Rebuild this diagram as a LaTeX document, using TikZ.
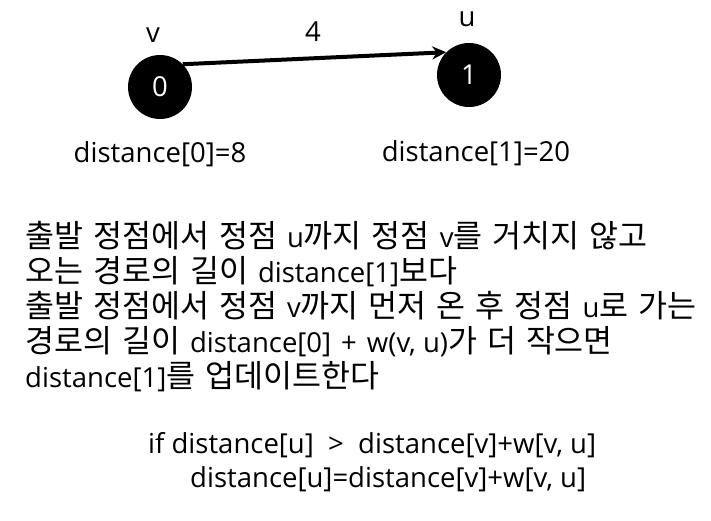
\documentclass[tikz,border=0pt]{standalone}
\usepackage{fontspec}
\usetikzlibrary{arrows.meta}
\setmainfont{Open Sans}
\newfontfamily\krfont{Noto Sans CJK KR}
\newcommand\K[1]{{\krfont\fontsize{31.5}{36}\selectfont #1}}
\newcommand\sk{\hspace*{10pt}}
\begin{document}
\begin{tikzpicture}[x=1pt,y=-1pt,
  vert/.style={circle,fill=black,minimum size=64pt,inner sep=0pt,text=white,font=\fontsize{27.5}{32}\selectfont},
  lbl/.style={font=\fontsize{27.5}{32}\selectfont,inner sep=0pt,anchor=base},
  para/.style={font=\fontsize{27.5}{32}\selectfont,inner sep=0pt,anchor=base west},
  code/.style={font=\fontsize{27.5}{32}\selectfont,inner sep=0pt,anchor=base west}]
\useasboundingbox (0,0) rectangle (711,520);
\node[vert] (n0) at (160,87) {0};
\node[vert] (n1) at (469,75) {1};
\draw[line width=4pt,-{Stealth[length=14pt,width=13pt]}] (n0.45) -- (n1.135);
\node[lbl] (lv) at (153,42) {v};
\node[lbl] (lu) at (467,26) {u};
\node[lbl] (lw) at (313,41) {4};
\node[lbl] (d0) at (160,162) {distance[0]=8};
\node[lbl] (d1) at (476,161) {distance[1]=20};
\node[para] (p1) at (25,247) {\K{출발}\sk\K{정점에서}\sk\K{정점}\sk u\K{까지}\sk\K{정점}\sk v\K{를}\sk\K{거치지}\sk\K{않고}};
\node[para] (p2) at (25,282) {\K{오는}\sk\K{경로의}\sk\K{길이}\sk distance[1]\K{보다}};
\node[para] (p3) at (25,317) {\K{출발}\sk\K{정점에서}\sk\K{정점}\sk v\K{까지}\sk\K{먼저}\sk\K{온}\sk\K{후}\sk\K{정점}\sk u\K{로}\sk\K{가는}};
\node[para] (p4) at (25,352) {\K{경로의}\sk\K{길이}\sk distance[0]\sk+\sk w(v, u)\K{가}\sk\K{더}\sk\K{작으면}};
\node[para] (p5) at (25,387) {distance[1]\K{를}\sk\K{업데이트한다}};
\node[code] (c1) at (148,453) {if distance[u] \ > \ distance[v]+w[v, u]};
\node[code] (c2) at (190,487) {distance[u]=distance[v]+w[v, u]};
\end{tikzpicture}
\end{document}
